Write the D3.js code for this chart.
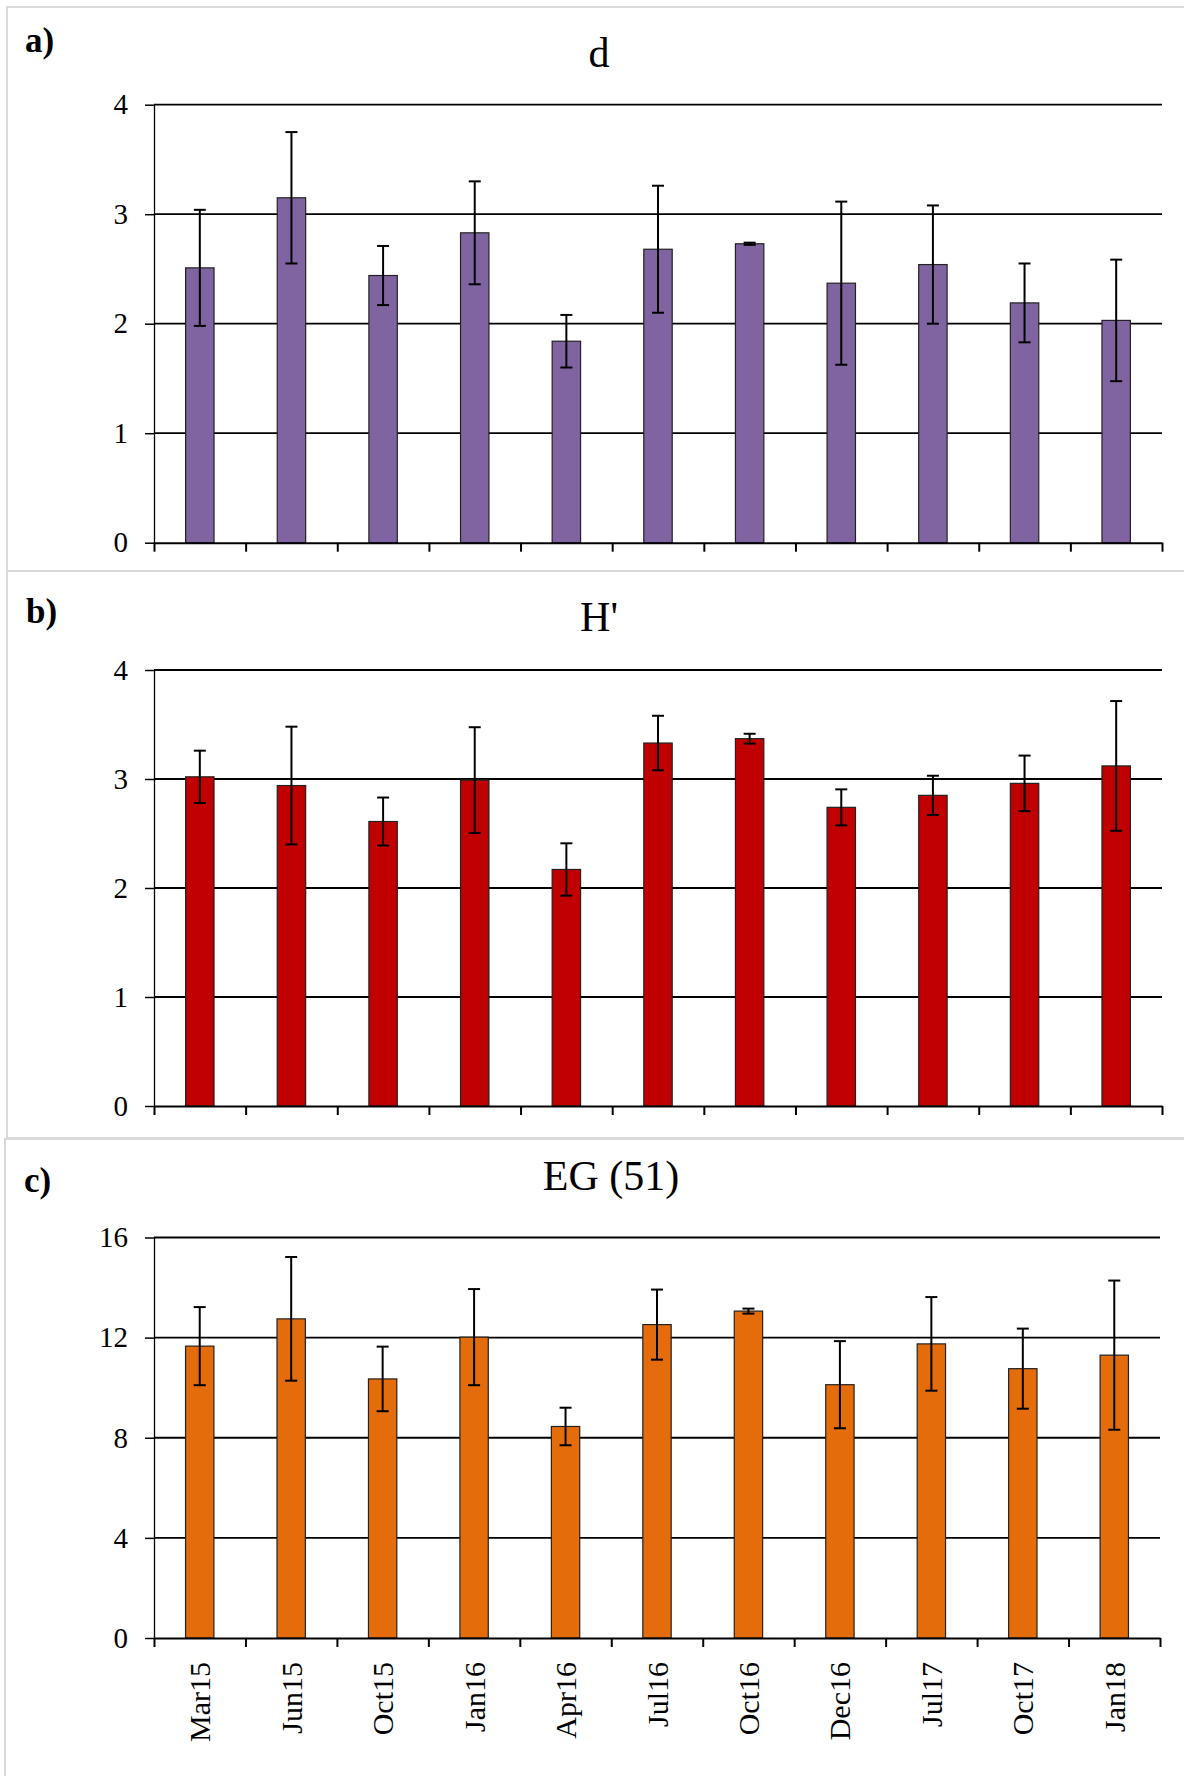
<!DOCTYPE html>
<html>
<head>
<meta charset="utf-8">
<script src="https://cdn.jsdelivr.net/npm/d3@7"></script>
<style>
  body { margin: 0; background: #fff; }
  text { font-family: "Liberation Serif", "Times New Roman", serif; fill: #000; }
</style>
</head>
<body>
<script>
var categories = ["Mar15", "Jun15", "Oct15", "Jan16", "Apr16", "Jul16", "Oct16", "Dec16", "Jul17", "Oct17", "Jan18"];

var dValues = [2.51, 3.15, 2.44, 2.83, 1.84, 2.68, 2.73, 2.37, 2.54, 2.19, 2.03];
var dErrors = [0.53, 0.60, 0.27, 0.47, 0.24, 0.58, 0.01, 0.745, 0.54, 0.36, 0.555];

var hValues = [3.02, 2.94, 2.61, 2.99, 2.17, 3.33, 3.37, 2.74, 2.85, 2.96, 3.12];
var hErrors = [0.24, 0.54, 0.22, 0.485, 0.24, 0.25, 0.045, 0.165, 0.18, 0.255, 0.595];

var egValues = [11.66, 12.75, 10.35, 12.02, 8.45, 12.52, 13.06, 10.12, 11.75, 10.76, 11.30];
var egErrors = [1.56, 2.47, 1.29, 1.92, 0.75, 1.40, 0.10, 1.74, 1.87, 1.60, 2.98];

var dTicks = [0, 1, 2, 3, 4];
var hTicks = [0, 1, 2, 3, 4];
var egTicks = [0, 4, 8, 12, 16];

var serif = '"Liberation Serif", "Times New Roman", serif';

var svg = d3.select("body").append("svg")
    .attr("width", 1184)
    .attr("height", 1776);

// panel frames
var frames = [
  {x: 7, y: 7, h: 564},
  {x: 7, y: 571, h: 567},
  {x: 5, y: 1139, h: 700}
];
frames.forEach(function (f) {
  svg.append("rect")
      .attr("x", f.x).attr("y", f.y)
      .attr("width", 1300).attr("height", f.h)
      .attr("fill", "none")
      .attr("stroke", "#d9d9d9")
      .attr("stroke-width", 2);
});

var panels = [
  {letter: "a)", title: "d", values: dValues, errors: dErrors, ticks: dTicks, color: "#8064a2",
   left: 154, right: 1162, top: 104.7, bottom: 542.7, titleX: 599, titleY: 67, letterX: 25, letterY: 52, labels: false},
  {letter: "b)", title: "H'", values: hValues, errors: hErrors, ticks: hTicks, color: "#c00000",
   left: 154, right: 1162, top: 670, bottom: 1106, titleX: 599, titleY: 631, letterX: 26, letterY: 623, labels: false},
  {letter: "c)", title: "EG (51)", values: egValues, errors: egErrors, ticks: egTicks, color: "#e46c0a",
   left: 154, right: 1160, top: 1237.5, bottom: 1638, titleX: 611, titleY: 1190, letterX: 24, letterY: 1192, labels: true}
];

panels.forEach(function (p) {
  var g = svg.append("g");

  var x = d3.scaleBand().domain(categories).range([p.left, p.right]).padding(0);
  var edge = d3.scaleLinear().domain([0, categories.length]).range([p.left, p.right]);
  var y = d3.scaleLinear().domain([0, d3.max(p.ticks)]).range([p.bottom, p.top]);

  g.append("text")
      .attr("x", p.letterX).attr("y", p.letterY)
      .style("font-size", "35px").style("font-weight", "bold")
      .text(p.letter);

  g.append("text")
      .attr("x", p.titleX).attr("y", p.titleY)
      .attr("text-anchor", "middle")
      .style("font-size", "42px")
      .text(p.title);

  // gridlines
  g.selectAll("line.grid")
    .data(p.ticks.slice(1))
    .enter().append("line")
      .attr("class", "grid")
      .attr("x1", p.left).attr("x2", p.right)
      .attr("y1", function (d) { return y(d); })
      .attr("y2", function (d) { return y(d); })
      .attr("stroke", "#000")
      .attr("stroke-width", 1.8);

  var bw = x.bandwidth() * 0.31;

  g.selectAll("rect.bar")
    .data(p.values)
    .enter().append("rect")
      .attr("class", "bar")
      .attr("x", function (d, i) { return x(categories[i]) + x.bandwidth() / 2 - bw / 2; })
      .attr("y", function (d) { return y(d); })
      .attr("width", bw)
      .attr("height", function (d) { return p.bottom - y(d); })
      .attr("fill", p.color)
      .attr("stroke", "#222")
      .attr("stroke-width", 1.2);

  // error bars
  var eg = g.selectAll("g.err")
    .data(p.values)
    .enter().append("g")
      .attr("class", "err")
      .attr("stroke", "#000")
      .attr("stroke-width", 2);
  eg.append("line")
      .attr("x1", function (d, i) { return x(categories[i]) + x.bandwidth() / 2; })
      .attr("x2", function (d, i) { return x(categories[i]) + x.bandwidth() / 2; })
      .attr("y1", function (d, i) { return y(d + p.errors[i]); })
      .attr("y2", function (d, i) { return y(d - p.errors[i]); });
  [1, -1].forEach(function (s) {
    eg.append("line")
        .attr("x1", function (d, i) { return x(categories[i]) + x.bandwidth() / 2 - 6; })
        .attr("x2", function (d, i) { return x(categories[i]) + x.bandwidth() / 2 + 6; })
        .attr("y1", function (d, i) { return y(d + s * p.errors[i]); })
        .attr("y2", function (d, i) { return y(d + s * p.errors[i]); });
  });

  // y axis
  var yAxis = g.append("g")
      .attr("transform", "translate(" + p.left + ",0)")
      .call(d3.axisLeft(y).tickValues(p.ticks).tickFormat(d3.format("d"))
        .tickSize(9).tickSizeOuter(0).tickPadding(17));
  yAxis.select(".domain").attr("stroke", "#000").attr("stroke-width", 1.3);
  yAxis.selectAll(".tick line").attr("stroke", "#000").attr("stroke-width", 1.5);
  yAxis.selectAll(".tick text")
      .style("font-family", serif)
      .style("font-size", "29px")
      .attr("fill", "#000");

  // x axis with ticks at band edges
  var xAxis = g.append("g")
      .attr("transform", "translate(0," + p.bottom + ")")
      .call(d3.axisBottom(edge).tickValues(d3.range(categories.length + 1)).tickFormat("").tickSize(9).tickSizeOuter(0));
  xAxis.select(".domain").attr("stroke", "#000").attr("stroke-width", 2);
  xAxis.selectAll(".tick line").attr("stroke", "#000").attr("stroke-width", 2);

  if (p.labels) {
    var lab = g.append("g")
        .attr("transform", "translate(0," + p.bottom + ")")
        .call(d3.axisBottom(x).tickSize(0).tickPadding(0));
    lab.select(".domain").remove();
    lab.selectAll(".tick text")
        .style("font-family", serif)
        .style("font-size", "30px")
        .attr("fill", "#000")
        .attr("text-anchor", "end")
        .attr("dy", "0.35em")
        .attr("transform", "translate(0,24) rotate(-90)");
  }
});
</script>
</body>
</html>
